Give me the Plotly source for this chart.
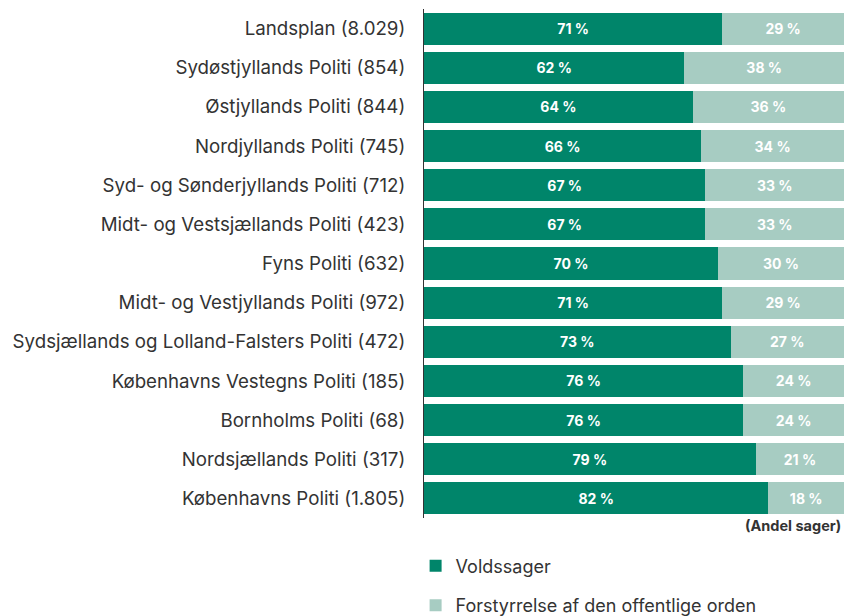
import plotly.graph_objects as go

categories = [
    "Landsplan (8.029)",
    "Sydøstjyllands Politi (854)",
    "Østjyllands Politi (844)",
    "Nordjyllands Politi (745)",
    "Syd- og Sønderjyllands Politi (712)",
    "Midt- og Vestsjællands Politi (423)",
    "Fyns Politi (632)",
    "Midt- og Vestjyllands Politi (972)",
    "Sydsjællands og Lolland-Falsters Politi (472)",
    "Københavns Vestegns Politi (185)",
    "Bornholms Politi (68)",
    "Nordsjællands Politi (317)",
    "Københavns Politi (1.805)",
]
vold = [71, 62, 64, 66, 67, 67, 70, 71, 73, 76, 76, 79, 82]
forstyrrelse = [29, 38, 36, 34, 33, 33, 30, 29, 27, 24, 24, 21, 18]

FONT = "Inter, Roboto, sans-serif"
DARK = "#00856A"
LIGHT = "#A7CCC2"

fig = go.Figure()
fig.add_trace(go.Bar(
    y=categories, x=vold, orientation="h", name="Voldssager",
    marker=dict(color=DARK, line=dict(width=0)),
    text=[f"{v} %" for v in vold], textposition="inside", insidetextanchor="middle",
    textfont=dict(color="white", size=14, family=FONT, weight="bold"),
    legendgroup="a", hoverinfo="skip",
))
fig.add_trace(go.Bar(
    y=categories, x=forstyrrelse, orientation="h", name="Forstyrrelse af den offentlige orden",
    marker=dict(color=LIGHT, line=dict(width=0)),
    text=[f"{v} %" for v in forstyrrelse], textposition="inside", insidetextanchor="middle",
    textfont=dict(color="white", size=14, family=FONT, weight="bold"),
    legendgroup="b", hoverinfo="skip",
))

fig.update_layout(
    width=844, height=616,
    barmode="stack", bargap=0.18,
    margin=dict(l=424, r=0, t=9, b=98, autoexpand=False),
    paper_bgcolor="white", plot_bgcolor="white",
    font=dict(family=FONT, color="#333333", size=17),
    uniformtext=dict(minsize=10, mode="show"),
    xaxis=dict(range=[0, 100], visible=False, fixedrange=True),
    yaxis=dict(autorange="reversed", showline=True, linecolor="#333333", linewidth=1,
               ticks="", ticklabelstandoff=14, tickfont=dict(size=18.7, color="#333333"),
               showgrid=False, fixedrange=True),
    legend=dict(orientation="v", x=-0.02, xanchor="left", yref="container", y=0.111, yanchor="top",
                font=dict(size=18, color="#333333"), tracegroupgap=13,
                itemwidth=30, bgcolor="rgba(0,0,0,0)"),
    showlegend=True,
    annotations=[dict(text="<b>(Andel sager)</b>", x=0.998, xref="paper", xanchor="right",
                      y=-0.0138, yref="paper", yanchor="middle", showarrow=False,
                      font=dict(size=14.5, color="#333333", family=FONT))],
)

fig.write_html("out.html", post_script="document.body.style.margin='0';",
               config={"displayModeBar": False})
